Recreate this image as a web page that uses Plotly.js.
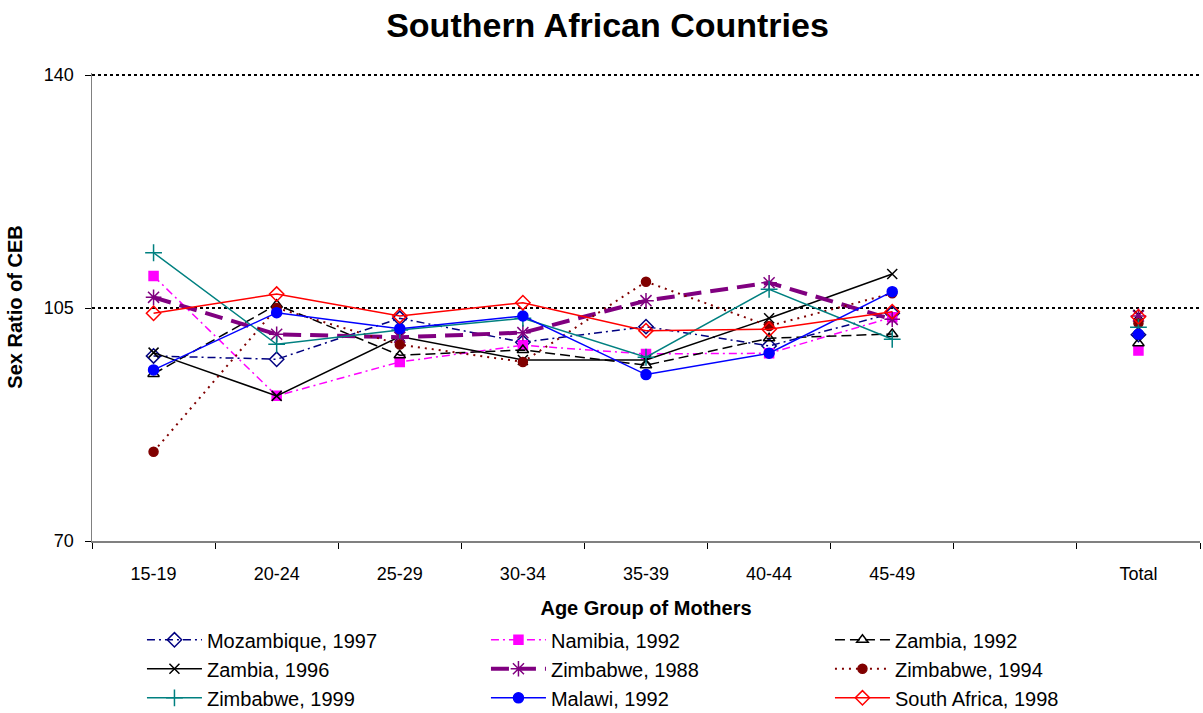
<!DOCTYPE html>
<html>
<head>
<meta charset="utf-8">
<script src="https://cdn.plot.ly/plotly-3.0.1.min.js"></script>
<style>html,body{margin:0;padding:0;background:#fff;}#chart{width:1203px;height:713px;}</style>
</head>
<body>
<div id="chart"></div>
<script>
const categories = ['15-19','20-24','25-29','30-34','35-39','40-44','45-49',' ','Total'];
const yTicks = [70, 105, 140];

const mozambique1997 = [97.8, 97.3, 103.45, 99.85, 102.2, 99.3, 104.2, null, 101.0];
const namibia1992    = [109.8, 91.8, 96.9, 99.4, 98.1, 98.2, 103.6, null, 98.6];
const zambia1992     = [95.1, 105.5, 97.9, 98.7, 96.4, 100.45, 101.1, null, 99.7];
const zambia1996     = [98.3, 91.8, 100.7, 97.2, 97.2, 103.45, 110.1, null, 104.0];
const zimbabwe1988   = [106.6, 101.05, 100.6, 101.3, 106.1, 108.8, 103.3, null, 103.8];
const zimbabwe1994   = [83.4, 105.0, 99.5, 96.9, 108.95, 102.3, 107.2, null, 102.7];
const zimbabwe1999   = [113.3, 99.55, 101.7, 103.45, 97.6, 107.8, 100.3, null, 102.1];
const malawi1992     = [95.7, 104.3, 101.9, 103.8, 95.0, 98.2, 107.45, null, 101.05];
const southAfrica1998= [104.2, 107.1, 103.8, 105.8, 101.6, 101.8, 104.45, null, 103.7];

const FONT = 'Arial, "Liberation Sans", sans-serif';

function tr(name, y, color, lw, dash, symbol, msize, mfill) {
  return {
    type: 'scatter', mode: 'lines+markers', name: name,
    x: categories, y: y, connectgaps: false,
    line: {color: color, width: lw, dash: dash},
    marker: {symbol: symbol, size: msize, color: mfill || color,
             line: {color: color, width: 1.5}}
  };
}

const traces = [
  tr('Mozambique, 1997', mozambique1997, '#000080', 1.5, '8px,4px,2px,4px', 'diamond-open', 11),
  tr('Namibia, 1992', namibia1992, '#FF00FF', 1.5, '8px,4px,2px,4px', 'square', 9),
  tr('Zambia, 1992', zambia1992, '#000000', 1.5, '10px,5px', 'triangle-up-open', 10),
  tr('Zambia, 1996', zambia1996, '#000000', 1.5, 'solid', 'x-thin-open', 10),
  tr('Zimbabwe, 1988', zimbabwe1988, '#800080', 4, '18px,9px', 'asterisk-open', 13),
  tr('Zimbabwe, 1994', zimbabwe1994, '#800000', 2, '2px,5px', 'circle', 9),
  tr('Zimbabwe, 1999', zimbabwe1999, '#008080', 1.5, 'solid', 'cross-thin-open', 12),
  tr('Malawi, 1992', malawi1992, '#0000FF', 1.5, 'solid', 'circle', 10),
  tr('South Africa, 1998', southAfrica1998, '#FF0000', 1.5, 'solid', 'diamond-open', 11)
];

const layout = {
  width: 1203, height: 713,
  paper_bgcolor: '#fff', plot_bgcolor: '#fff',
  font: {family: FONT, color: '#000', size: 18},
  margin: {l: 92, r: 3, t: 73, b: 172},
  title: {text: '<b>Southern African Countries</b>', font: {family: FONT, size: 34, color: '#000'},
          x: 0.505, xanchor: 'center', y: 0.965, yanchor: 'middle'},
  xaxis: {
    type: 'category', categoryorder: 'array', categoryarray: categories,
    range: [-0.5, categories.length - 0.5],
    showline: true, linecolor: '#808080', linewidth: 1.5,
    ticks: 'outside', tickson: 'boundaries', ticklen: 6, tickcolor: '#000', tickwidth: 1,
    showgrid: false, zeroline: false,
    tickfont: {family: FONT, size: 18}, ticklabelstandoff: 16,
    title: {text: '<b>Age Group of Mothers</b>', font: {family: FONT, size: 20}, standoff: 18}
  },
  yaxis: {
    range: [70, 140.3], tickvals: yTicks, ticktext: yTicks.map(String),
    showline: true, linecolor: '#808080', linewidth: 1.5,
    ticks: 'outside', ticklen: 6, tickcolor: '#000', tickwidth: 1,
    showgrid: true, gridcolor: '#000', gridwidth: 2.5, griddash: 'dot',
    zeroline: false,
    tickfont: {family: FONT, size: 18}, ticklabelstandoff: 7,
    title: {text: '<b>Sex Ratio of CEB</b>', font: {family: FONT, size: 20}, standoff: 16}
  },
  showlegend: true,
  legend: {
    orientation: 'h', xref: 'container', yref: 'container',
    x: 0.118, xanchor: 'left', y: 0.13, yanchor: 'top',
    entrywidth: 274, entrywidthmode: 'pixels', itemwidth: 55,
    font: {family: FONT, size: 20, color: '#000'},
    tracegroupgap: 0, bgcolor: 'rgba(0,0,0,0)'
  }
};

Plotly.newPlot('chart', traces, layout, {displayModeBar: false, staticPlot: true});
</script>
</body>
</html>
